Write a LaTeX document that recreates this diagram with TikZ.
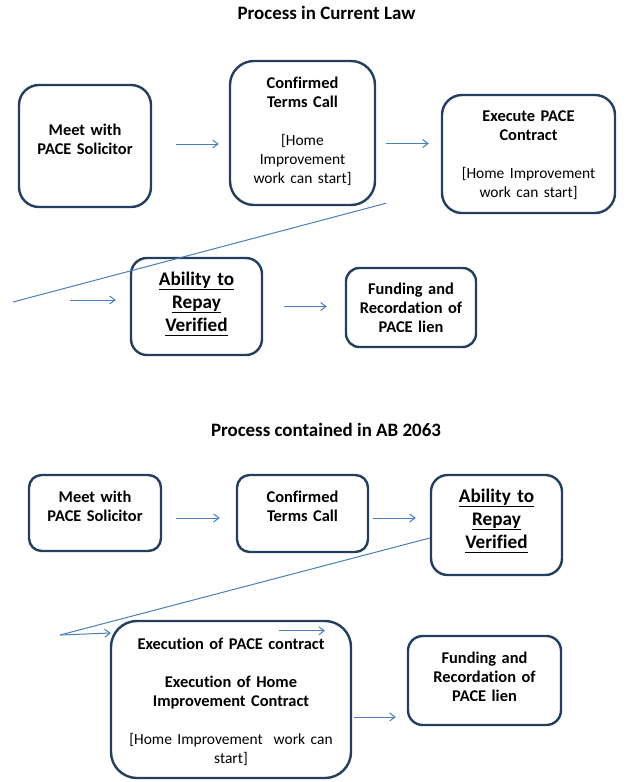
\documentclass[tikz,border=0pt]{standalone}
\usepackage{fontspec}
\setmainfont{Carlito}[Ligatures=NoCommon]
\usepackage{xcolor}
\usetikzlibrary{arrows.meta}
\definecolor{boxcol}{RGB}{38,62,94}
\definecolor{arrcol}{RGB}{74,126,187}
\newcommand{\reg}{\fontsize{11.6}{14.25}\selectfont\mdseries}
\newcommand{\undl}[1]{\leavevmode\setbox0\hbox{#1}\rlap{\rule[-3.3pt]{\wd0}{0.9pt}}\box0}

\begin{document}
\begin{tikzpicture}[x=0.75pt,y=0.75pt,yscale=-1,xscale=1,
  box/.style={draw=boxcol, line width=1.8pt, rounded corners=#1},
  box/.default=12pt,
  txt/.style={align=center, inner sep=0pt, text width=150pt, font=\fontsize{12.3}{14.25}\selectfont\bfseries},
  big/.style={txt, font=\fontsize{14.4}{17.25}\selectfont\bfseries},
  ttl/.style={inner sep=0pt, font=\fontsize{14.2}{17}\selectfont\bfseries},
  arr/.style={draw=arrcol, line width=0.75pt, -{Straight Barb[length=4pt,width=6pt]}},
  wrap/.style={draw=arrcol, line width=0.75pt}]
\useasboundingbox (0,0) rectangle (629,782);

% Titles
\node[ttl] (t1) at (326.5,13) {Process in Current Law};
\node[ttl] (t2) at (326,430) {Process contained in AB 2063};

% Process in current law
\node[box=15pt, minimum width=99pt, minimum height=91.5pt] (a1) at (85,146) {};
\node[txt] (a1t) at (85,139) {Meet with\\PACE Solicitor};
\node[box=18pt, minimum width=108.75pt, minimum height=108pt] (a2) at (302.5,133) {};
\node[txt] (a2t) at (302.5,131.5) {Confirmed\\Terms Call\\[14.25pt]{\reg [Home\\Improvement\\work can start]}};
\node[box=15pt, minimum width=129.75pt, minimum height=88.5pt] (a3) at (528.5,154) {};
\node[txt] (a3t) at (528.5,155.5) {Execute PACE\\Contract\\[14.25pt]{\reg [Home Improvement\\work can start]}};
\node[box=12pt, minimum width=98.25pt, minimum height=72.75pt] (a4) at (196.5,306.5) {};
\node[big] (a4t) at (196.5,304) {\undl{Ability to}\\\undl{Repay}\\\undl{Verified}};
\node[box=10pt, minimum width=97.5pt, minimum height=59.25pt] (a5) at (411,307.5) {};
\node[txt] (a5t) at (411,308) {Funding and\\Recordation of\\PACE lien};

% Process in AB 2063
\node[box=9.5pt, minimum width=99pt, minimum height=57pt] (b1) at (95,513) {};
\node[txt] (b1t) at (95,506) {Meet with\\PACE Solicitor};
\node[box=9.5pt, minimum width=98.25pt, minimum height=57.75pt] (b2) at (302.5,513.5) {};
\node[txt] (b2t) at (302.5,506.5) {Confirmed\\Terms Call};
\node[box=12.5pt, minimum width=98.25pt, minimum height=75pt] (b3) at (496.5,525) {};
\node[big] (b3t) at (496.5,521) {\undl{Ability to}\\\undl{Repay}\\\undl{Verified}};
\node[box=19.5pt, minimum width=180pt, minimum height=117.75pt] (b4) at (231,699.5) {};
\node[txt, text width=175pt] (b4t) at (231,701.5) {Execution of PACE contract\\[14.25pt]Execution of Home\\Improvement Contract\\[14.25pt]{\reg [Home Improvement\ \ work can\\start]}};
\node[box=11pt, minimum width=114.75pt, minimum height=66.75pt] (b5) at (484.5,680.5) {};
\node[txt] (b5t) at (484.5,677) {Funding and\\Recordation of\\PACE lien};

% Connectors
\coordinate (wa) at (13,302);
\coordinate (wb) at (60,635);
\draw[arr] ([shift={(24,-2)}]a1.east) -- ([shift={(-10,11)}]a2.west);
\draw[arr] ([shift={(10,10.5)}]a2.east) -- ([shift={(-12,-10.5)}]a3.west);
\draw[wrap] ([shift={(10,-3)}]a2.south east) -- (wa);
\draw[arr] ([shift={(-60,-6.5)}]a4.west) -- ([shift={(-14,-6.5)}]a4.west);
\draw[arr] ([shift={(21,0)}]a4.east) -- ([shift={(-18,-1)}]a5.west);

\draw[arr] ([shift={(14,5)}]b1.east) -- ([shift={(-16,4.5)}]b2.west);
\draw[arr] ([shift={(4,4.5)}]b2.east) -- ([shift={(-14,-7)}]b3.west);
\draw[wrap] ([shift={(0,13)}]b3.west) -- (wb);
\draw[arr] (wb) -- ([shift={(1,-66.5)}]b4.west);
\draw[arr] ([shift={(48,11)}]b4.north) -- ([shift={(94,11)}]b4.north);
\draw[arr] ([shift={(2,17.5)}]b4.east) -- ([shift={(-11,36.5)}]b5.west);

\end{tikzpicture}
\end{document}
